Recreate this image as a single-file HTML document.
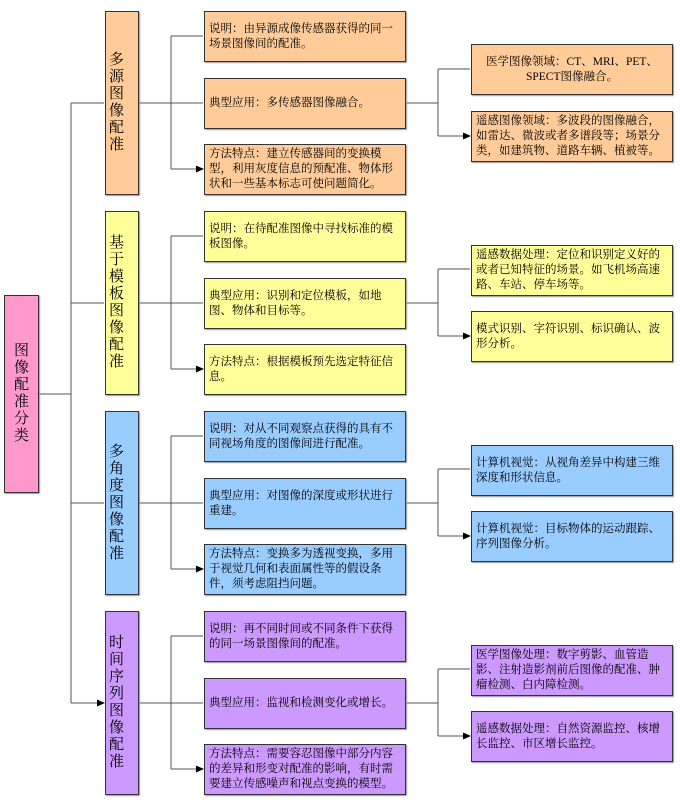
<!DOCTYPE html>
<html><head><meta charset="utf-8">
<style>
body{margin:0;background:#fff;}
#c{position:relative;width:680px;height:805px;overflow:hidden;font-family:"Liberation Serif","Noto Serif CJK SC",serif;}
.b{position:absolute;box-sizing:border-box;border:1px solid #333;display:flex;align-items:center;font-size:11.5px;line-height:15px;padding:0 4px;color:#000;box-shadow:1px 1px 1px #999;}
.l1{font-size:15px;line-height:17px;padding:0 3px;}
.o{background:#FFCC99}.y{background:#FFFF99}.bl{background:#99CCFF}.p{background:#CC99FF}.pk{background:#FF99CC}
svg{position:absolute;left:0;top:0}
</style></head><body><div id="c">
<svg width="680" height="805">
<defs><marker id="a" markerWidth="8" markerHeight="8" refX="7" refY="4" orient="auto" markerUnits="userSpaceOnUse"><path d="M0,0.5 L8,4 L0,7.5z" fill="#000"/></marker></defs>
<g stroke="#555" fill="none" stroke-width="1">
<path d="M38,394H71M71,103V703"/>
<path d="M71,103H104M71,303H104M71,503H104M71,703H104" marker-end="url(#a)"/>
<g id="g">
<path d="M138,103H171M171,36V169"/>
<path d="M171,36H203M171,103H203M171,169H203" marker-end="url(#a)"/>
<path d="M405,103H438M438,69V136"/>
<path d="M438,69H470M438,136H470" marker-end="url(#a)"/>
</g>
<use href="#g" y="200"/><use href="#g" y="400"/><use href="#g" y="600"/>
</g></svg>
<div class="b pk l1" style="left:4px;top:295px;width:35px;height:198px;text-align:center;justify-content:center">图像<br>配准<br>分类</div>

<div class="b o l1" style="left:105px;top:11px;width:34px;height:184px">多源<br>图像<br>配准</div>
<div class="b o" style="left:204px;top:11px;width:202px;height:51px">说明：由异源成像传感器获得的同一场景图像间的配准。</div>
<div class="b o" style="left:204px;top:78px;width:202px;height:51px">典型应用：多传感器图像融合。</div>
<div class="b o" style="left:204px;top:144px;width:202px;height:51px">方法特点：建立传感器间的变换模型，利用灰度信息的预配准、物体形状和一些基本标志可使问题简化。</div>
<div class="b o" style="left:471px;top:44px;width:202px;height:51px;justify-content:center;text-align:center">医学图像领域：CT、MRI、PET、SPECT图像融合。</div>
<div class="b o" style="left:471px;top:111px;width:202px;height:51px">遥感图像领域：多波段的图像融合，如雷达、微波或者多谱段等；场景分类，如建筑物、道路车辆、植被等。</div>

<div class="b y l1" style="left:105px;top:211px;width:34px;height:184px">基于<br>模板<br>图像<br>配准</div>
<div class="b y" style="left:204px;top:211px;width:202px;height:51px">说明：在待配准图像中寻找标准的模板图像。</div>
<div class="b y" style="left:204px;top:278px;width:202px;height:51px">典型应用：识别和定位模板，如地图、物体和目标等。</div>
<div class="b y" style="left:204px;top:344px;width:202px;height:51px">方法特点：根据模板预先选定特征信息。</div>
<div class="b y" style="left:471px;top:245px;width:202px;height:51px">遥感数据处理：定位和识别定义好的或者已知特征的场景。如飞机场高速路、车站、停车场等。</div>
<div class="b y" style="left:471px;top:311px;width:202px;height:51px">模式识别、字符识别、标识确认、波形分析。</div>

<div class="b bl l1" style="left:105px;top:411px;width:34px;height:184px">多角<br>度图<br>像配<br>准</div>
<div class="b bl" style="left:204px;top:411px;width:202px;height:51px">说明：对从不同观察点获得的具有不同视场角度的图像间进行配准。</div>
<div class="b bl" style="left:204px;top:478px;width:202px;height:51px">典型应用：对图像的深度或形状进行重建。</div>
<div class="b bl" style="left:204px;top:544px;width:202px;height:51px">方法特点：变换多为透视变换，多用于视觉几何和表面属性等的假设条件，须考虑阻挡问题。</div>
<div class="b bl" style="left:471px;top:445px;width:202px;height:51px">计算机视觉：从视角差异中构建三维深度和形状信息。</div>
<div class="b bl" style="left:471px;top:511px;width:202px;height:51px">计算机视觉：目标物体的运动跟踪、序列图像分析。</div>

<div class="b p l1" style="left:105px;top:611px;width:34px;height:184px">时间<br>序列<br>图像<br>配准</div>
<div class="b p" style="left:204px;top:611px;width:202px;height:51px">说明：再不同时间或不同条件下获得的同一场景图像间的配准。</div>
<div class="b p" style="left:204px;top:678px;width:202px;height:51px">典型应用：监视和检测变化或增长。</div>
<div class="b p" style="left:204px;top:744px;width:202px;height:51px">方法特点：需要容忍图像中部分内容的差异和形变对配准的影响，有时需要建立传感噪声和视点变换的模型。</div>
<div class="b p" style="left:471px;top:645px;width:202px;height:51px">医学图像处理：数字剪影、血管造影、注射造影剂前后图像的配准、肿瘤检测、白内障检测。</div>
<div class="b p" style="left:471px;top:711px;width:202px;height:51px">遥感数据处理：自然资源监控、核增长监控、市区增长监控。</div>
</div></body></html>
